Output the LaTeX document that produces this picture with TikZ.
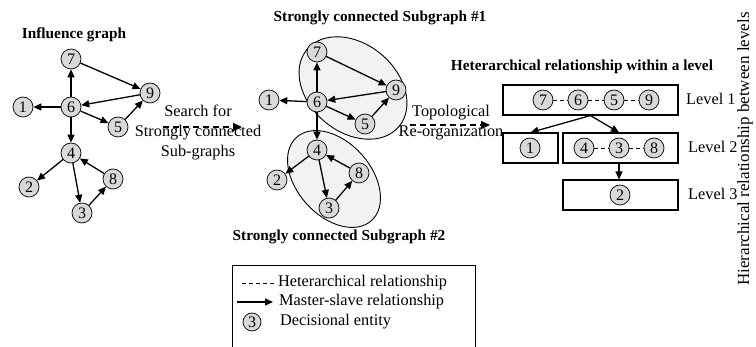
\documentclass[tikz,border=0pt]{standalone}
\usepackage{fontspec}
\setmainfont{Liberation Serif}
\usetikzlibrary{shapes.geometric,arrows.meta}
\tikzset{ent/.style={circle, draw=black, fill=gray!30, line width=0.7pt,
    minimum size=20pt, inner sep=0pt, font=\fontsize{16}{16}\selectfont},
  ms/.style={-{Triangle[length=8pt,width=7pt]}, line width=1.3pt},
  het/.style={dash pattern=on 4pt off 3pt, line width=0.9pt},
  flow/.style={-{Triangle[length=9pt,width=8pt]}, dash pattern=on 6pt off 4pt, line width=1.2pt},
  lvl/.style={draw, fill=white, line width=1.1pt, minimum height=30pt, inner sep=0pt},
  subg/.style={ellipse, draw, fill=gray!10, line width=0.9pt, inner sep=0pt},
  txt/.style={font=\fontsize{16.3}{20}\selectfont, inner sep=0pt},
  ttl/.style={font=\bfseries\fontsize{15.3}{18}\selectfont, inner sep=0pt}}

\begin{document}
\begin{tikzpicture}[x=1pt, y=-1pt]
        \useasboundingbox (0,0) rectangle (756,347);
        % influence graph
        \node[ttl] (tinf) at (74,35) {Influence graph};
        \foreach \n/\x/\y in {1/23/107, 2/29/187, 3/82/213, 4/71/153, 5/118/127,
                              6/71/107, 7/71/59, 8/113/179, 9/150/93}{
          \node[ent] (a\n) at (\x,\y) {\n};
        }
        % strongly connected subgraphs
        \node[subg, minimum width=120pt, minimum height=88pt, rotate=-40] (sg1) at (353,88) {};
        \node[subg, minimum width=112pt, minimum height=74pt, rotate=-48] (sg2) at (334,179) {};
        \node[ttl] (tsg1) at (380,18) {Strongly connected Subgraph \#1};
        \node[ttl] (tsg2) at (339,237) {Strongly connected Subgraph \#2};
        \foreach \n/\x/\y in {1/269/100, 2/277/180, 3/329/208, 4/317/150, 5/365/124,
                              6/317/102, 7/317/52, 8/359/173, 9/396/90}{
          \node[ent] (b\n) at (\x,\y) {\n};
        }
        \foreach \g in {a, b}{
          \foreach \s/\t in {7/9, 9/6, 6/7, 6/1, 6/5, 5/9, 6/4, 4/2, 4/3, 3/8, 8/4}{
            \draw[ms] (\g\s) -- (\g\t);
          }
        }
        % steps
        \node[txt, align=center] (srch) at (198,133) {Search for\\Strongly connected\\Sub-graphs};
        \coordinate (s0) at (163,127);
        \coordinate (s1) at (242,127);
        \draw[flow] (s0) -- (s1);
        \node[txt, align=center] (topo) at (451,123) {Topological\\Re-organization};
        \coordinate (t0) at (410,125);
        \coordinate (t1) at (490,125);
        \draw[flow] (t0) -- (t1);
        % levels
        \node[ttl] (thet) at (582,67) {Heterarchical relationship within a level};
        \node[lvl, minimum width=175pt] (lev1) at (590.5,100) {};
        \node[lvl, minimum width=55pt] (lev2a) at (530.5,148) {};
        \node[lvl, minimum width=115pt] (lev2b) at (620.5,148) {};
        \node[lvl, minimum width=115pt] (lev3) at (620.5,195) {};
        \foreach \n/\x/\y in {7/543/100, 6/578/100, 5/614/100, 9/649/100, 1/530/148,
                              4/584/148, 3/619/148, 8/654/148, 2/620/195}{
          \node[ent] (r\n) at (\x,\y) {\n};
        }
        \draw[het] (r7) -- (r6);
        \draw[het] (r6) -- (r5);
        \draw[het] (r5) -- (r9);
        \draw[het] (r4) -- (r3);
        \draw[het] (r3) -- (r8);
        \draw[ms] (lev1.south) -- (lev2a.north);
        \draw[ms] (lev1.south) -- (r3 |- lev2b.north);
        \draw[ms] (r3 |- lev2b.south) -- (r3 |- lev3.north);
        \node[txt, anchor=west] (l1) at (686,99) {Level 1};
        \node[txt, anchor=west] (l2) at (688,147) {Level 2};
        \node[txt, anchor=west] (l3) at (688,194) {Level 3};
        \node[txt, rotate=90, font=\fontsize{17}{20}\selectfont] (hier) at (745,149)
          {Hierarchical relationship between levels};
        % legend
        \draw[line width=0.9pt] (232,347) |- (475,265) -- (475,347);
        \coordinate (h0) at (242,283);
        \coordinate (h1) at (275,283);
        \draw[het] (h0) -- (h1);
        \node[txt, anchor=west] (hl) at (278,283) {Heterarchical relationship};
        \coordinate (m0) at (237,302);
        \coordinate (m1) at (273,302);
        \draw[ms] (m0) -- (m1);
        \node[txt, anchor=west] (ml) at (279,302) {Master-slave relationship};
        \node[ent, minimum size=18pt] (lg3) at (252,322) {3};
        \node[txt, anchor=west] (dl) at (280,322) {Decisional entity};
      \end{tikzpicture}
\end{document}
